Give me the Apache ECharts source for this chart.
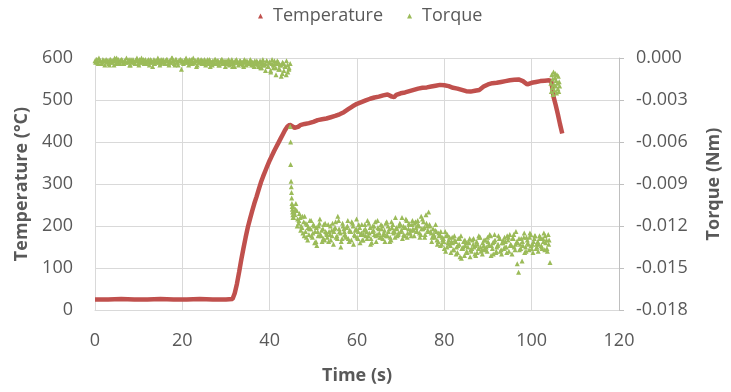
<!DOCTYPE html>
<html>
<head>
<meta charset="utf-8">
<script src="https://cdn.jsdelivr.net/npm/echarts@6/dist/echarts.min.js"></script>
<style>
html,body{margin:0;padding:0;background:#fff;}
#chart{width:731px;height:392px;}
</style>
</head>
<body>
<div id="chart"></div>
<script>
// ---------- DATA ----------
const xTicks = [0, 20, 40, 60, 80, 100, 120];
const tempTicks = [0, 100, 200, 300, 400, 500, 600];
const torqueTicks = [0, -0.003, -0.006, -0.009, -0.012, -0.015, -0.018];

// Temperature (°C) vs time (s)
const tempTime = [0, 3, 6, 9, 12, 15, 18, 21, 24, 27, 30, 31.5, 32, 32.5, 33, 33.5, 34, 34.5, 35, 35.5, 36, 36.5, 37, 37.5, 38, 38.5, 39, 39.5, 40, 40.5, 41, 41.5, 42, 42.5, 43, 43.5, 44, 44.6, 45, 45.7, 46.5, 47, 48, 49, 50, 51, 52, 53, 54, 55, 56, 57, 58, 59, 60, 61, 62, 63, 64, 65, 66, 67, 68, 68.5, 69, 70, 71, 72, 73, 74, 75, 76, 77, 78, 79, 80, 81, 82, 83, 84, 85, 86, 87, 88, 89, 90, 91, 92, 93, 94, 95, 96, 97, 98, 99, 100, 101, 102, 103, 104, 104.5, 105, 105.5, 106, 106.5, 107];
const tempValue = [25, 25, 26, 25, 25, 26, 25, 25, 26, 25, 25, 26, 40, 62, 90, 120, 147, 173, 197, 217, 236, 254, 270, 287, 304, 318, 331, 344, 356, 367, 378, 388, 398, 408, 418, 428, 436, 441, 437, 434, 436, 440, 443, 445, 448, 452, 454, 456, 459, 462, 466, 471, 478, 485, 491, 495, 499, 503, 506, 508, 511, 513, 508, 507, 512, 516, 518, 521, 524, 527, 529, 530, 532, 534, 536, 535, 533, 529, 527, 524, 521, 520, 522, 524, 532, 537, 540, 541, 543, 545, 547, 548, 549, 545, 537, 541, 543, 545, 546, 547, 545, 508, 488, 466, 442, 420];

// Torque (Nm): sampled segments (start time, sample step, readings)
const torqueA_start = 0, torqueA_step = 0.3;
const torqueA = [
 -0.0002,-0.0001,-0.0003,0.0000,-0.0002,-0.0004,-0.0001,-0.0002,0.0001,-0.0003,
 -0.0002,-0.0005,-0.0001,-0.0003,-0.0002,0.0000,-0.0004,-0.0002,-0.0001,-0.0003,
 -0.0001,-0.0002,-0.0004,-0.0002,0.0000,-0.0003,-0.0001,-0.0005,-0.0002,-0.0001,
 -0.0003,-0.0002,0.0000,-0.0004,-0.0001,-0.0002,-0.0003,-0.0001,-0.0002,-0.0004,
 -0.0002,-0.0001,-0.0003,-0.0002,-0.0006,-0.0001,-0.0002,-0.0003,0.0000,-0.0002,
 -0.0004,-0.0002,-0.0001,-0.0003,-0.0002,-0.0001,-0.0004,-0.0002,-0.0003,0.0000,
 -0.0002,-0.0005,-0.0001,-0.0003,-0.0002,-0.0001,-0.0008,-0.0002,-0.0003,-0.0001,
 -0.0002,-0.0003,-0.0001,-0.0004,-0.0002,0.0000,-0.0003,-0.0002,-0.0005,-0.0001,
 -0.0003,-0.0001,-0.0002,-0.0004,-0.0002,-0.0003,-0.0001,-0.0002,-0.0006,-0.0003,
 -0.0002,-0.0004,-0.0001,-0.0003,-0.0002,-0.0005,-0.0002,-0.0001,-0.0003,-0.0004,
 -0.0002,-0.0003,-0.0001,-0.0004,-0.0002,-0.0006,-0.0003,-0.0002,-0.0001,-0.0003,
 -0.0004,-0.0002,-0.0003,-0.0005,-0.0001,-0.0003,-0.0002,-0.0004,-0.0003,-0.0002,
 -0.0003,-0.0005,-0.0002,-0.0004,-0.0003,-0.0006,-0.0002,-0.0004,-0.0003,-0.0005,
 -0.0004,-0.0002,-0.0006,-0.0003,-0.0009,-0.0004,-0.0005,-0.0002,-0.0007,-0.0004,
 -0.0003,-0.0008,-0.0005,-0.0011,-0.0004,-0.0006,-0.0012,-0.0005,-0.0008,-0.0004
];
const torqueA2_start = 38.15, torqueA2_step = 0.3;
const torqueA2 = [-0.0007,-0.0001,-0.0005,-0.0009,-0.0002,-0.0006,-0.0003,-0.0010,-0.0001,-0.0007,-0.0004,-0.0012,-0.0002,-0.0008,-0.0005,-0.0013,-0.0003,-0.0009,-0.0006,-0.0002,-0.0010,-0.0007];
const torqueA3_start = 0.15, torqueA3_step = 0.3;
const torqueA3 = [
 -0.0003,-0.0001,-0.0004,-0.0002,0.0001,-0.0003,-0.0002,-0.0005,-0.0001,-0.0002,
 -0.0004,-0.0001,-0.0003,-0.0002,-0.0005,-0.0001,0.0000,-0.0003,-0.0004,-0.0002,
 -0.0001,-0.0004,-0.0002,-0.0003,0.0001,-0.0002,-0.0005,-0.0001,-0.0003,-0.0002,
 -0.0004,-0.0001,-0.0002,-0.0005,-0.0003,0.0000,-0.0002,-0.0004,-0.0001,-0.0003,
 -0.0002,-0.0005,-0.0001,-0.0003,-0.0002,-0.0004,0.0001,-0.0002,-0.0003,-0.0005,
 -0.0001,-0.0003,-0.0002,-0.0004,-0.0001,-0.0002,-0.0005,-0.0003,0.0000,-0.0002,
 -0.0004,-0.0001,-0.0003,-0.0005,-0.0002,-0.0001,-0.0003,-0.0004,-0.0002,0.0000,
 -0.0003,-0.0005,-0.0002,-0.0001,-0.0004,-0.0003,-0.0002,-0.0006,-0.0001,-0.0003,
 -0.0002,-0.0004,-0.0003,-0.0001,-0.0005,-0.0002,-0.0004,-0.0001,-0.0003,-0.0005,
 -0.0003,-0.0001,-0.0004,-0.0002,-0.0005,-0.0003,-0.0001,-0.0004,-0.0002,-0.0006,
 -0.0004,-0.0002,-0.0005,-0.0003,-0.0001,-0.0004,-0.0006,-0.0002,-0.0003,-0.0005,
 -0.0002,-0.0004,-0.0003,-0.0006,-0.0002,-0.0005,-0.0003,-0.0004,-0.0001,-0.0005,
 -0.0003,-0.0006,-0.0004,-0.0002,-0.0005,-0.0003,-0.0007
];

const torqueDropTime = [44.7, 44.8, 44.8, 44.9, 44.95, 45.0, 45.05, 45.1, 45.15, 45.2, 45.25, 45.3, 45.35];
const torqueDrop = [-0.0049, -0.0060, -0.0076, -0.0088, -0.0092, -0.0096, -0.0100, -0.0104, -0.0106, -0.0108, -0.0110, -0.0112, -0.0114];

const torqueB1_start = 45.4, torqueB1_step = 0.4;
const torqueB1 = [
 -0.0106,-0.0112,-0.0109,-0.0118,-0.0114,-0.0121,-0.0117,-0.0124,-0.0119,-0.0126,
 -0.0122,-0.0128,-0.0120,-0.0131,-0.0124,-0.0118,-0.0127,-0.0122,-0.0130,-0.0125,
 -0.0119,-0.0126,-0.0123,-0.0133,-0.0121,-0.0127,-0.0116,-0.0125,-0.0129,-0.0122,
 -0.0127,-0.0120,-0.0131,-0.0124,-0.0118,-0.0126,-0.0122,-0.0129,-0.0121,-0.0125,
 -0.0130,-0.0119,-0.0124,-0.0127,-0.0121,-0.0132,-0.0123,-0.0117,-0.0126,-0.0122,
 -0.0128,-0.0120,-0.0125,-0.0118,-0.0127,-0.0122,-0.0130,-0.0119,-0.0124,-0.0121,
 -0.0126,-0.0118,-0.0123,-0.0120,-0.0127,-0.0116,-0.0122,-0.0125,-0.0119,-0.0123,
 -0.0117,-0.0124,-0.0120,-0.0126,-0.0115,-0.0121,-0.0112,-0.0123,-0.0119,-0.0125,
 -0.0122,-0.0128,-0.0124,-0.0131,-0.0126,-0.0133,-0.0129,-0.0124,-0.0135,-0.0130,
 -0.0134,-0.0128,-0.0137,-0.0131,-0.0139,-0.0133,-0.0127,-0.0136,-0.0141,-0.0132,
 -0.0135,-0.0129,-0.0138,-0.0133,-0.0140,-0.0131,-0.0136,-0.0128,-0.0137,-0.0134,
 -0.0130,-0.0138,-0.0133,-0.0127,-0.0136,-0.0131,-0.0139,-0.0134,-0.0129,-0.0137,
 -0.0132,-0.0128,-0.0135,-0.0130,-0.0126,-0.0134,-0.0129,-0.0137,-0.0131,-0.0153,
 -0.0133,-0.0145,-0.0128,-0.0135,-0.0130,-0.0137,-0.0126,-0.0133,-0.0129,-0.0136,
 -0.0131,-0.0127,-0.0134,-0.0129,-0.0137,-0.0130,-0.0126,-0.0146
];
const torqueB2_start = 45.6, torqueB2_step = 0.4;
const torqueB2 = [
 -0.0110,-0.0104,-0.0115,-0.0111,-0.0120,-0.0125,-0.0113,-0.0128,-0.0121,-0.0116,
 -0.0127,-0.0119,-0.0124,-0.0134,-0.0120,-0.0126,-0.0131,-0.0119,-0.0124,-0.0128,
 -0.0124,-0.0130,-0.0118,-0.0122,-0.0128,-0.0113,-0.0124,-0.0131,-0.0120,-0.0126,
 -0.0121,-0.0129,-0.0124,-0.0117,-0.0133,-0.0123,-0.0128,-0.0119,-0.0126,-0.0130,
 -0.0123,-0.0127,-0.0116,-0.0125,-0.0129,-0.0120,-0.0126,-0.0131,-0.0121,-0.0128,
 -0.0122,-0.0126,-0.0131,-0.0117,-0.0124,-0.0128,-0.0121,-0.0125,-0.0114,-0.0127,
 -0.0120,-0.0124,-0.0129,-0.0121,-0.0115,-0.0125,-0.0119,-0.0127,-0.0122,-0.0118,
 -0.0124,-0.0119,-0.0128,-0.0122,-0.0117,-0.0126,-0.0120,-0.0110,-0.0124,-0.0128,
 -0.0126,-0.0119,-0.0133,-0.0127,-0.0124,-0.0130,-0.0136,-0.0127,-0.0132,-0.0128,
 -0.0131,-0.0137,-0.0130,-0.0135,-0.0129,-0.0142,-0.0136,-0.0131,-0.0134,-0.0139,
 -0.0132,-0.0137,-0.0130,-0.0135,-0.0141,-0.0133,-0.0128,-0.0138,-0.0132,-0.0136,
 -0.0135,-0.0131,-0.0126,-0.0134,-0.0140,-0.0130,-0.0135,-0.0127,-0.0138,-0.0132,
 -0.0136,-0.0131,-0.0127,-0.0138,-0.0133,-0.0129,-0.0135,-0.0124,-0.0132,-0.0137,
 -0.0129,-0.0134,-0.0139,-0.0128,-0.0133,-0.0125,-0.0136,-0.0131,-0.0127,-0.0135,
 -0.0133,-0.0128,-0.0136,-0.0125,-0.0132,-0.0138,-0.0130
];
const torqueB3_start = 45.5, torqueB3_step = 0.4;
const torqueB3 = [
 -0.0114,-0.0108,-0.0120,-0.0116,-0.0123,-0.0113,-0.0127,-0.0118,-0.0130,-0.0122,
 -0.0116,-0.0125,-0.0132,-0.0121,-0.0127,-0.0115,-0.0123,-0.0129,-0.0118,-0.0126,
 -0.0131,-0.0120,-0.0127,-0.0124,-0.0117,-0.0129,-0.0122,-0.0135,-0.0118,-0.0124,
 -0.0128,-0.0116,-0.0123,-0.0130,-0.0120,-0.0127,-0.0115,-0.0124,-0.0132,-0.0119,
 -0.0126,-0.0122,-0.0129,-0.0118,-0.0133,-0.0124,-0.0120,-0.0127,-0.0116,-0.0125,
 -0.0119,-0.0129,-0.0123,-0.0127,-0.0120,-0.0131,-0.0117,-0.0124,-0.0128,-0.0122,
 -0.0125,-0.0119,-0.0114,-0.0126,-0.0121,-0.0128,-0.0118,-0.0123,-0.0116,-0.0127,
 -0.0121,-0.0116,-0.0125,-0.0113,-0.0122,-0.0128,-0.0118,-0.0124,-0.0120,-0.0131,
 -0.0127,-0.0123,-0.0130,-0.0125,-0.0134,-0.0128,-0.0131,-0.0138,-0.0126,-0.0133,
 -0.0139,-0.0132,-0.0127,-0.0140,-0.0134,-0.0129,-0.0143,-0.0135,-0.0130,-0.0138,
 -0.0131,-0.0142,-0.0136,-0.0129,-0.0134,-0.0139,-0.0127,-0.0135,-0.0140,-0.0130,
 -0.0137,-0.0128,-0.0134,-0.0141,-0.0132,-0.0126,-0.0138,-0.0133,-0.0129,-0.0140,
 -0.0130,-0.0135,-0.0139,-0.0128,-0.0134,-0.0140,-0.0126,-0.0133,-0.0147,-0.0129,
 -0.0136,-0.0131,-0.0125,-0.0138,-0.0132,-0.0128,-0.0134,-0.0139,-0.0127,-0.0133,
 -0.0138,-0.0129,-0.0135,-0.0131,-0.0127,-0.0136,-0.0133
];

const torqueEndTime = [104.4,104.5,104.6,104.7,104.8,104.9,105.0,105.1,105.2,105.3,105.4,105.5,105.6,105.7,105.8,105.9,106.0,106.1,106.2,106.3,106.4];
const torqueEnd = [-0.0018,-0.0024,-0.0012,-0.0021,-0.0015,-0.0026,-0.0010,-0.0019,-0.0023,-0.0014,-0.0011,-0.0020,-0.0016,-0.0025,-0.0012,-0.0018,-0.0022,-0.0013,-0.0024,-0.0017,-0.0020];

// ---------- BUILD ----------
function sampled(start, step, vals) {
  return vals.map((v, i) => [+(start + i * step).toFixed(3), v]);
}
function paired(ts, vs) { return ts.map((t, i) => [t, vs[i]]); }

const tempData = paired(tempTime, tempValue);
const torqueData = [].concat(
  sampled(torqueA_start, torqueA_step, torqueA),
  sampled(torqueA2_start, torqueA2_step, torqueA2),
  sampled(torqueA3_start, torqueA3_step, torqueA3),
  paired(torqueDropTime, torqueDrop),
  sampled(torqueB1_start, torqueB1_step, torqueB1),
  sampled(torqueB2_start, torqueB2_step, torqueB2),
  sampled(torqueB3_start, torqueB3_step, torqueB3),
  paired(torqueEndTime, torqueEnd)
);

const FONT = '"Open Sans", "Liberation Sans", sans-serif';
const TXT = '#595959';
const RED = '#C0504D';
const GREEN = '#9BBB59';
const GRID = '#D9D9D9';

const chart = echarts.init(document.getElementById('chart'), null, {renderer: 'canvas'});
chart.setOption({
  animation: false,
  backgroundColor: '#fff',
  textStyle: {fontFamily: FONT},
  legend: {
    top: 2,
    left: 253,
    itemWidth: 5,
    itemHeight: 5,
    itemGap: 24,
    textStyle: {fontFamily: FONT, fontSize: 18, color: TXT, padding: [0, 0, 0, 5]},
    data: [
      {name: 'Temperature', icon: 'triangle', itemStyle: {color: RED}},
      {name: 'Torque', icon: 'triangle', itemStyle: {color: GREEN}}
    ]
  },
  grid: {left: 95, right: 111, top: 58, bottom: 82, containLabel: false},
  xAxis: {
    type: 'value',
    min: xTicks[0], max: xTicks[xTicks.length - 1], interval: 20,
    name: 'Time (s)', nameLocation: 'middle', nameGap: 57,
    nameTextStyle: {fontFamily: FONT, fontSize: 18, fontWeight: 'bold', color: TXT},
    axisLine: {show: true, lineStyle: {color: GRID, width: 1}},
    axisTick: {show: false},
    axisLabel: {fontFamily: FONT, fontSize: 18, color: TXT, margin: 22},
    splitLine: {show: true, lineStyle: {color: GRID, width: 1}}
  },
  yAxis: [
    {
      type: 'value', position: 'left',
      min: tempTicks[0], max: tempTicks[tempTicks.length - 1], interval: 100,
      name: 'Temperature (°C)', nameLocation: 'middle', nameGap: 58, nameRotate: 90,
      nameTextStyle: {fontFamily: FONT, fontSize: 18, fontWeight: 'bold', color: TXT},
      axisLine: {show: true, lineStyle: {color: GRID, width: 1}},
      axisTick: {show: false},
      axisLabel: {fontFamily: FONT, fontSize: 18, color: TXT, margin: 22},
      splitLine: {show: true, lineStyle: {color: GRID, width: 1}}
    },
    {
      type: 'value', position: 'right',
      min: torqueTicks[torqueTicks.length - 1], max: torqueTicks[0], interval: 0.003,
      name: 'Torque (Nm)', nameLocation: 'middle', nameGap: 86, nameRotate: 90,
      nameTextStyle: {fontFamily: FONT, fontSize: 18, fontWeight: 'bold', color: TXT},
      axisLine: {show: true, lineStyle: {color: '#BFBFBF', width: 1}},
      axisTick: {show: true, length: 5, lineStyle: {color: '#BFBFBF'}},
      axisLabel: {fontFamily: FONT, fontSize: 18, color: TXT, margin: 17,
        formatter: v => v.toFixed(3)},
      splitLine: {show: false}
    }
  ],
  series: [
    {
      name: 'Temperature', type: 'line', yAxisIndex: 0,
      data: tempData, showSymbol: false, symbol: 'triangle',
      lineStyle: {color: RED, width: 4.5}, itemStyle: {color: RED},
      z: 2
    },
    {
      name: 'Torque', type: 'scatter', yAxisIndex: 1,
      data: torqueData, symbol: 'triangle', symbolSize: 5,
      itemStyle: {color: GREEN, opacity: 1},
      z: 3
    }
  ]
});
</script>
</body>
</html>
